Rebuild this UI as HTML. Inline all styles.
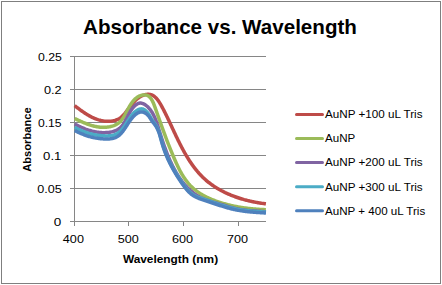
<!DOCTYPE html>
<html><head><meta charset="utf-8"><style>
html,body{margin:0;padding:0;background:#fff;}
body{width:442px;height:285px;overflow:hidden;}
svg{display:block;}
text{font-family:"Liberation Sans", sans-serif;fill:#000;}
</style></head><body>
<svg width="442" height="285" viewBox="0 0 442 285">
<rect x="0" y="0" width="442" height="285" fill="#fff"/>
<rect x="1.5" y="1.5" width="439" height="282" fill="none" stroke="#7f7f7f" stroke-width="1"/>
<line x1="74" y1="56.5" x2="266" y2="56.5" stroke="#868686" stroke-width="1"/><line x1="74" y1="89.5" x2="266" y2="89.5" stroke="#868686" stroke-width="1"/><line x1="74" y1="122.5" x2="266" y2="122.5" stroke="#868686" stroke-width="1"/><line x1="74" y1="155.5" x2="266" y2="155.5" stroke="#868686" stroke-width="1"/><line x1="74" y1="188.5" x2="266" y2="188.5" stroke="#868686" stroke-width="1"/>
<line x1="74.5" y1="56" x2="74.5" y2="226" stroke="#868686" stroke-width="1"/>
<line x1="70" y1="221.5" x2="266" y2="221.5" stroke="#868686" stroke-width="1"/>
<line x1="70" y1="56.5" x2="74" y2="56.5" stroke="#868686" stroke-width="1"/><line x1="70" y1="89.5" x2="74" y2="89.5" stroke="#868686" stroke-width="1"/><line x1="70" y1="122.5" x2="74" y2="122.5" stroke="#868686" stroke-width="1"/><line x1="70" y1="155.5" x2="74" y2="155.5" stroke="#868686" stroke-width="1"/><line x1="70" y1="188.5" x2="74" y2="188.5" stroke="#868686" stroke-width="1"/><line x1="70" y1="221.5" x2="74" y2="221.5" stroke="#868686" stroke-width="1"/><line x1="74.5" y1="221" x2="74.5" y2="226" stroke="#868686" stroke-width="1"/><line x1="128.5" y1="221" x2="128.5" y2="226" stroke="#868686" stroke-width="1"/><line x1="183.5" y1="221" x2="183.5" y2="226" stroke="#868686" stroke-width="1"/><line x1="238.5" y1="221" x2="238.5" y2="226" stroke="#868686" stroke-width="1"/>
<text x="37.90" y="61.00" font-size="11.20" textLength="23.90" lengthAdjust="spacingAndGlyphs">0.25</text><text x="43.90" y="94.00" font-size="11.20" textLength="17.70" lengthAdjust="spacingAndGlyphs">0.2</text><text x="37.90" y="127.00" font-size="11.20" textLength="23.70" lengthAdjust="spacingAndGlyphs">0.15</text><text x="43.10" y="160.00" font-size="11.20" textLength="18.30" lengthAdjust="spacingAndGlyphs">0.1</text><text x="37.30" y="193.00" font-size="11.20" textLength="24.50" lengthAdjust="spacingAndGlyphs">0.05</text><text x="53.80" y="226.00" font-size="11.20" textLength="7.50" lengthAdjust="spacingAndGlyphs">0</text><text x="62.85" y="243.00" font-size="11.20" textLength="21.10" lengthAdjust="spacingAndGlyphs">400</text><text x="117.65" y="243.00" font-size="11.20" textLength="21.10" lengthAdjust="spacingAndGlyphs">500</text><text x="172.00" y="243.00" font-size="11.20" textLength="21.10" lengthAdjust="spacingAndGlyphs">600</text><text x="227.00" y="243.00" font-size="11.20" textLength="21.10" lengthAdjust="spacingAndGlyphs">700</text>
<path d="M74.68 105.69 L75.27 106.15 L75.88 106.61 L76.48 107.07 L77.09 107.54 L77.70 108.00 L78.32 108.47 L78.94 108.93 L79.56 109.39 L80.19 109.85 L80.82 110.31 L81.46 110.77 L82.10 111.22 L82.74 111.67 L83.39 112.11 L84.04 112.55 L84.69 112.99 L85.35 113.42 L86.02 113.84 L86.68 114.26 L87.36 114.67 L88.03 115.07 L88.71 115.47 L89.40 115.86 L90.08 116.23 L90.78 116.60 L91.47 116.96 L92.17 117.31 L92.88 117.64 L93.59 117.97 L94.30 118.28 L95.02 118.58 L95.74 118.87 L96.47 119.15 L97.20 119.41 L97.94 119.66 L98.68 119.89 L99.43 120.10 L100.18 120.30 L100.93 120.49 L101.69 120.66 L102.46 120.81 L103.23 120.94 L104.00 121.06 L104.78 121.15 L105.56 121.23 L106.34 121.29 L107.13 121.32 L107.91 121.34 L108.69 121.33 L109.47 121.31 L110.25 121.26 L111.02 121.19 L111.78 121.09 L112.54 120.97 L113.29 120.83 L114.03 120.66 L114.76 120.47 L115.48 120.25 L116.18 120.01 L116.87 119.74 L117.55 119.44 L118.21 119.11 L118.85 118.76 L119.48 118.38 L120.09 117.97 L120.68 117.53 L121.25 117.07 L121.82 116.59 L122.37 116.08 L122.90 115.55 L123.43 115.01 L123.95 114.44 L124.46 113.87 L124.96 113.27 L125.46 112.67 L125.95 112.05 L126.44 111.42 L126.93 110.78 L127.42 110.14 L127.91 109.49 L128.40 108.83 L128.89 108.18 L129.39 107.52 L129.89 106.86 L130.40 106.21 L130.91 105.55 L131.44 104.91 L131.97 104.26 L132.51 103.63 L133.05 103.00 L133.61 102.39 L134.17 101.78 L134.74 101.19 L135.32 100.62 L135.91 100.06 L136.50 99.51 L137.11 98.99 L137.73 98.48 L138.35 98.00 L138.99 97.54 L139.63 97.10 L140.29 96.69 L140.96 96.31 L141.63 95.95 L142.32 95.63 L143.02 95.33 L143.73 95.07 L144.45 94.85 L145.19 94.66 L145.92 94.50 L146.66 94.39 L147.40 94.32 L148.14 94.29 L148.86 94.31 L149.58 94.38 L150.28 94.50 L150.97 94.67 L151.64 94.89 L152.29 95.17 L152.92 95.49 L153.53 95.85 L154.12 96.26 L154.70 96.71 L155.26 97.20 L155.81 97.72 L156.34 98.27 L156.86 98.85 L157.36 99.46 L157.86 100.10 L158.33 100.75 L158.80 101.42 L159.26 102.12 L159.70 102.82 L160.14 103.54 L160.49 104.14 L160.84 104.75 L161.19 105.36 L161.59 106.09 L161.99 106.83 L162.38 107.56 L162.76 108.28 L163.14 109.00 L163.51 109.72 L163.88 110.43 L164.24 111.13 L164.60 111.84 L164.95 112.54 L165.30 113.23 L165.64 113.92 L165.98 114.62 L166.32 115.30 L166.66 115.99 L166.99 116.68 L167.32 117.36 L167.65 118.04 L167.97 118.73 L168.30 119.41 L168.62 120.10 L168.95 120.78 L169.27 121.47 L169.59 122.16 L169.91 122.85 L170.24 123.54 L170.56 124.23 L170.88 124.92 L171.21 125.62 L171.53 126.32 L171.86 127.02 L172.18 127.72 L172.51 128.42 L172.83 129.12 L173.16 129.82 L173.49 130.53 L173.82 131.23 L174.15 131.94 L174.48 132.65 L174.81 133.35 L175.15 134.06 L175.48 134.77 L175.82 135.47 L176.15 136.18 L176.49 136.89 L176.83 137.60 L177.17 138.30 L177.51 139.01 L177.86 139.72 L178.20 140.43 L178.55 141.13 L178.90 141.84 L179.25 142.54 L179.61 143.25 L179.96 143.95 L180.32 144.65 L180.68 145.35 L181.04 146.05 L181.41 146.75 L181.77 147.45 L182.14 148.15 L182.51 148.84 L182.88 149.54 L183.26 150.23 L183.64 150.92 L184.02 151.61 L184.41 152.30 L184.79 152.98 L185.18 153.66 L185.58 154.34 L185.97 155.02 L186.37 155.70 L186.77 156.37 L187.18 157.04 L187.59 157.71 L188.00 158.38 L188.41 159.04 L188.83 159.70 L189.25 160.36 L189.68 161.01 L190.11 161.66 L190.54 162.31 L190.98 162.95 L191.42 163.59 L191.86 164.23 L192.31 164.87 L192.77 165.50 L193.22 166.12 L193.68 166.74 L194.15 167.36 L194.62 167.98 L195.09 168.59 L195.57 169.20 L196.05 169.80 L196.54 170.40 L197.03 170.99 L197.52 171.58 L198.03 172.16 L198.53 172.74 L199.04 173.32 L199.56 173.89 L200.08 174.45 L200.60 175.01 L201.13 175.57 L201.67 176.11 L202.21 176.66 L202.75 177.20 L203.31 177.73 L203.86 178.26 L204.42 178.78 L204.99 179.30 L205.57 179.81 L206.14 180.31 L206.73 180.81 L207.32 181.30 L207.91 181.79 L208.51 182.27 L209.12 182.74 L209.73 183.21 L210.34 183.68 L210.96 184.14 L211.59 184.59 L212.22 185.04 L212.85 185.48 L213.49 185.91 L214.14 186.34 L214.78 186.77 L215.44 187.18 L216.09 187.60 L216.75 188.01 L217.42 188.41 L218.08 188.80 L218.76 189.20 L219.43 189.58 L220.11 189.96 L220.80 190.34 L221.48 190.71 L222.17 191.07 L222.87 191.43 L223.57 191.78 L224.27 192.13 L224.97 192.48 L225.68 192.81 L226.39 193.15 L227.10 193.47 L227.82 193.80 L228.53 194.11 L229.26 194.42 L229.98 194.73 L230.71 195.03 L231.43 195.33 L232.17 195.62 L232.90 195.91 L233.63 196.19 L234.37 196.47 L235.11 196.74 L235.85 197.00 L236.60 197.27 L237.34 197.52 L238.09 197.77 L238.84 198.02 L239.59 198.26 L240.34 198.50 L241.09 198.73 L241.85 198.96 L242.60 199.18 L243.36 199.40 L244.12 199.62 L244.88 199.82 L245.64 200.03 L246.40 200.23 L247.16 200.42 L247.92 200.61 L248.68 200.80 L249.44 200.98 L250.21 201.15 L250.97 201.33 L251.73 201.49 L252.50 201.66 L253.26 201.81 L254.03 201.97 L254.79 202.12 L255.55 202.26 L256.32 202.40 L257.08 202.54 L257.84 202.67 L258.61 202.80 L259.37 202.92 L260.13 203.04 L260.89 203.15 L261.65 203.27 L262.41 203.37 L263.16 203.47 L263.92 203.57 L264.68 203.66 L265.43 203.75 L265.93 203.81" fill="none" stroke="#BE4B48" stroke-width="3.50" stroke-linejoin="round"/>
<path d="M74.65 118.53 L75.38 118.87 L76.11 119.21 L76.84 119.56 L77.58 119.90 L78.31 120.24 L79.05 120.58 L79.79 120.92 L80.54 121.26 L81.28 121.59 L82.03 121.92 L82.78 122.24 L83.53 122.56 L84.28 122.88 L85.04 123.19 L85.79 123.49 L86.55 123.78 L87.32 124.07 L88.08 124.35 L88.85 124.62 L89.62 124.88 L90.39 125.13 L91.17 125.37 L91.95 125.60 L92.73 125.82 L93.52 126.02 L94.31 126.21 L95.10 126.39 L95.90 126.56 L96.69 126.71 L97.50 126.85 L98.30 126.97 L99.11 127.07 L99.92 127.16 L100.74 127.23 L101.56 127.28 L102.38 127.31 L103.21 127.33 L104.04 127.32 L104.88 127.30 L105.71 127.25 L106.55 127.19 L107.38 127.10 L108.22 126.99 L109.04 126.86 L109.86 126.71 L110.67 126.53 L111.48 126.34 L112.27 126.11 L113.05 125.87 L113.81 125.60 L114.56 125.30 L115.30 124.98 L116.01 124.63 L116.70 124.26 L117.38 123.86 L118.02 123.43 L118.65 122.98 L119.24 122.50 L119.81 121.99 L120.36 121.46 L120.88 120.90 L121.38 120.32 L121.87 119.71 L122.33 119.09 L122.78 118.44 L123.22 117.78 L123.64 117.10 L124.06 116.41 L124.47 115.70 L124.87 114.98 L125.27 114.25 L125.60 113.63 L125.93 113.01 L126.26 112.38 L126.59 111.74 L126.93 111.11 L127.26 110.47 L127.60 109.83 L127.95 109.19 L128.30 108.55 L128.65 107.91 L129.01 107.28 L129.37 106.64 L129.74 106.02 L130.12 105.40 L130.50 104.79 L130.89 104.18 L131.29 103.59 L131.69 103.00 L132.10 102.43 L132.53 101.87 L133.04 101.21 L133.58 100.58 L134.12 99.97 L134.68 99.38 L135.26 98.83 L135.86 98.30 L136.47 97.80 L137.10 97.33 L137.75 96.90 L138.42 96.50 L139.11 96.15 L139.82 95.83 L140.55 95.55 L141.29 95.32 L142.04 95.13 L142.80 95.00 L143.55 94.92 L144.30 94.89 L145.04 94.92 L145.76 95.01 L146.46 95.16 L147.14 95.37 L147.79 95.66 L148.40 96.01 L148.98 96.43 L149.53 96.90 L150.06 97.43 L150.55 98.01 L151.02 98.64 L151.47 99.31 L151.89 100.02 L152.23 100.63 L152.56 101.27 L152.87 101.92 L153.17 102.59 L153.46 103.26 L153.74 103.95 L154.02 104.65 L154.29 105.35 L154.55 106.05 L154.80 106.76 L155.06 107.46 L155.30 108.15 L155.55 108.84 L155.79 109.52 L156.03 110.20 L156.27 110.87 L156.51 111.54 L156.74 112.20 L157.02 112.99 L157.29 113.77 L157.56 114.55 L157.84 115.32 L158.10 116.09 L158.37 116.85 L158.64 117.62 L158.90 118.38 L159.17 119.13 L159.43 119.89 L159.70 120.64 L159.96 121.39 L160.23 122.15 L160.50 122.90 L160.76 123.65 L161.03 124.40 L161.30 125.16 L161.57 125.91 L161.84 126.66 L162.11 127.42 L162.39 128.17 L162.66 128.93 L162.93 129.68 L163.21 130.43 L163.49 131.19 L163.76 131.94 L164.04 132.70 L164.32 133.45 L164.60 134.21 L164.89 134.97 L165.17 135.72 L165.45 136.48 L165.74 137.24 L166.02 137.99 L166.31 138.75 L166.60 139.51 L166.89 140.26 L167.18 141.02 L167.48 141.78 L167.77 142.54 L168.06 143.30 L168.36 144.06 L168.66 144.82 L168.96 145.57 L169.26 146.33 L169.56 147.09 L169.86 147.85 L170.16 148.61 L170.47 149.38 L170.78 150.14 L171.09 150.90 L171.40 151.66 L171.71 152.42 L172.02 153.18 L172.33 153.95 L172.65 154.71 L172.97 155.47 L173.28 156.23 L173.61 157.00 L173.93 157.76 L174.25 158.52 L174.58 159.28 L174.91 160.04 L175.24 160.80 L175.57 161.56 L175.91 162.32 L176.25 163.08 L176.60 163.83 L176.95 164.58 L177.30 165.33 L177.65 166.08 L178.01 166.82 L178.37 167.56 L178.74 168.30 L179.11 169.03 L179.49 169.76 L179.87 170.49 L180.26 171.21 L180.65 171.93 L181.05 172.64 L181.46 173.35 L181.87 174.06 L182.28 174.76 L182.70 175.45 L183.13 176.14 L183.56 176.82 L184.01 177.50 L184.45 178.17 L184.91 178.84 L185.37 179.49 L185.84 180.15 L186.32 180.79 L186.80 181.43 L187.30 182.06 L187.80 182.68 L188.31 183.29 L188.82 183.90 L189.35 184.50 L189.88 185.09 L190.43 185.67 L190.98 186.24 L191.54 186.80 L192.12 187.36 L192.70 187.90 L193.29 188.44 L193.89 188.96 L194.50 189.48 L195.12 189.98 L195.75 190.48 L196.39 190.97 L197.04 191.44 L197.69 191.91 L198.35 192.37 L199.02 192.82 L199.70 193.27 L200.39 193.70 L201.08 194.13 L201.78 194.54 L202.48 194.95 L203.19 195.35 L203.91 195.75 L204.63 196.13 L205.36 196.51 L206.09 196.88 L206.83 197.24 L207.57 197.60 L208.32 197.95 L209.07 198.29 L209.83 198.62 L210.58 198.95 L211.35 199.27 L212.11 199.58 L212.88 199.89 L213.65 200.19 L214.42 200.49 L215.20 200.78 L215.97 201.06 L216.75 201.34 L217.53 201.61 L218.31 201.87 L219.09 202.13 L219.87 202.38 L220.66 202.63 L221.44 202.88 L222.22 203.12 L223.00 203.35 L223.79 203.58 L224.57 203.80 L225.35 204.02 L226.14 204.23 L226.92 204.44 L227.71 204.64 L228.50 204.84 L229.28 205.03 L230.07 205.22 L230.86 205.41 L231.65 205.59 L232.44 205.76 L233.23 205.93 L234.02 206.10 L234.81 206.26 L235.60 206.42 L236.39 206.57 L237.19 206.72 L237.98 206.87 L238.78 207.01 L239.57 207.14 L240.37 207.28 L241.17 207.41 L241.96 207.53 L242.76 207.65 L243.56 207.77 L244.36 207.88 L245.17 207.99 L245.97 208.10 L246.78 208.20 L247.58 208.30 L248.39 208.39 L249.19 208.49 L250.00 208.57 L250.81 208.66 L251.62 208.74 L252.44 208.82 L253.25 208.89 L254.07 208.97 L254.88 209.04 L255.70 209.10 L256.52 209.17 L257.34 209.23 L258.16 209.28 L258.98 209.34 L259.80 209.39 L260.63 209.44 L261.46 209.48 L262.29 209.53 L263.12 209.57 L263.95 209.61 L264.78 209.64 L265.61 209.68 L265.89 209.69" fill="none" stroke="#9BBB59" stroke-width="3.50" stroke-linejoin="round"/>
<path d="M74.67 124.05 L75.38 124.43 L76.09 124.80 L76.80 125.16 L77.52 125.52 L78.24 125.87 L78.96 126.22 L79.68 126.56 L80.40 126.90 L81.13 127.23 L81.86 127.55 L82.59 127.86 L83.32 128.17 L84.05 128.47 L84.79 128.76 L85.53 129.05 L86.27 129.32 L87.02 129.58 L87.76 129.84 L88.51 130.09 L89.27 130.33 L90.02 130.55 L90.78 130.77 L91.54 130.98 L92.31 131.17 L93.08 131.36 L93.85 131.53 L94.62 131.69 L95.40 131.85 L96.18 131.98 L96.97 132.11 L97.75 132.22 L98.55 132.32 L99.34 132.41 L100.14 132.49 L100.95 132.55 L101.75 132.60 L102.57 132.63 L103.38 132.65 L104.20 132.65 L105.02 132.64 L105.85 132.61 L106.67 132.57 L107.49 132.50 L108.31 132.42 L109.13 132.32 L109.94 132.20 L110.74 132.06 L111.53 131.90 L112.32 131.72 L113.09 131.51 L113.85 131.28 L114.59 131.03 L115.32 130.75 L116.03 130.45 L116.72 130.12 L117.39 129.76 L118.04 129.37 L118.67 128.96 L119.27 128.51 L119.85 128.04 L120.40 127.54 L120.94 127.01 L121.45 126.46 L121.94 125.88 L122.41 125.29 L122.87 124.67 L123.32 124.03 L123.75 123.38 L124.17 122.71 L124.58 122.02 L124.98 121.33 L125.37 120.62 L125.76 119.90 L126.15 119.17 L126.53 118.44 L126.92 117.70 L127.30 116.96 L127.68 116.21 L128.07 115.47 L128.46 114.73 L128.86 113.99 L129.27 113.25 L129.68 112.53 L130.11 111.81 L130.54 111.10 L130.99 110.40 L131.45 109.72 L131.93 109.05 L132.43 108.40 L132.94 107.77 L133.48 107.15 L134.03 106.57 L134.61 106.00 L135.21 105.46 L135.84 104.95 L136.48 104.49 L137.14 104.07 L137.81 103.72 L138.49 103.43 L139.17 103.22 L139.98 103.09 L140.78 103.07 L141.58 103.17 L142.27 103.33 L142.94 103.56 L143.61 103.85 L144.28 104.20 L144.93 104.60 L145.57 105.04 L146.19 105.52 L146.80 106.03 L147.39 106.56 L147.96 107.12 L148.52 107.69 L149.05 108.27 L149.56 108.87 L150.06 109.48 L150.53 110.10 L150.99 110.74 L151.43 111.38 L151.86 112.04 L152.27 112.70 L152.66 113.38 L153.05 114.06 L153.41 114.75 L153.77 115.45 L154.11 116.16 L154.44 116.88 L154.76 117.60 L155.08 118.33 L155.38 119.06 L155.67 119.80 L155.95 120.55 L156.23 121.30 L156.50 122.05 L156.76 122.80 L157.02 123.56 L157.27 124.32 L157.52 125.09 L157.77 125.85 L158.01 126.62 L158.25 127.38 L158.49 128.15 L158.72 128.92 L158.96 129.68 L159.20 130.44 L159.44 131.21 L159.67 131.97 L159.91 132.73 L160.15 133.49 L160.39 134.25 L160.63 135.00 L160.87 135.76 L161.11 136.51 L161.35 137.27 L161.59 138.02 L161.83 138.77 L162.08 139.52 L162.33 140.27 L162.57 141.02 L162.82 141.77 L163.07 142.51 L163.33 143.26 L163.58 144.01 L163.84 144.75 L164.10 145.49 L164.36 146.23 L164.62 146.97 L164.89 147.71 L165.15 148.45 L165.42 149.19 L165.70 149.93 L165.97 150.67 L166.25 151.40 L166.53 152.14 L166.82 152.87 L167.11 153.60 L167.40 154.33 L167.69 155.06 L167.99 155.79 L168.29 156.52 L168.60 157.25 L168.91 157.98 L169.22 158.71 L169.54 159.43 L169.86 160.16 L170.19 160.88 L170.52 161.61 L170.85 162.33 L171.19 163.05 L171.53 163.77 L171.88 164.49 L172.24 165.21 L172.59 165.93 L172.96 166.65 L173.33 167.36 L173.70 168.08 L174.08 168.79 L174.46 169.50 L174.85 170.21 L175.24 170.91 L175.64 171.61 L176.05 172.31 L176.46 173.01 L176.87 173.70 L177.29 174.39 L177.72 175.08 L178.15 175.76 L178.59 176.43 L179.03 177.11 L179.48 177.78 L179.93 178.44 L180.39 179.10 L180.86 179.75 L181.33 180.40 L181.81 181.04 L182.29 181.68 L182.78 182.31 L183.28 182.93 L183.78 183.55 L184.29 184.16 L184.80 184.77 L185.32 185.37 L185.85 185.96 L186.38 186.54 L186.92 187.11 L187.47 187.68 L188.02 188.24 L188.58 188.79 L189.15 189.34 L189.72 189.87 L190.30 190.40 L190.89 190.91 L191.48 191.42 L192.08 191.92 L192.69 192.41 L193.30 192.89 L193.92 193.35 L194.55 193.81 L195.19 194.26 L195.83 194.70 L196.48 195.13 L197.14 195.54 L197.80 195.94 L198.48 196.34 L199.16 196.72 L199.84 197.09 L200.54 197.45 L201.24 197.79 L201.95 198.12 L202.67 198.45 L203.39 198.76 L204.12 199.06 L204.85 199.35 L205.59 199.63 L206.34 199.91 L207.09 200.18 L207.84 200.44 L208.60 200.69 L209.36 200.94 L210.12 201.18 L210.89 201.41 L211.66 201.65 L212.43 201.88 L213.20 202.10 L213.98 202.33 L214.75 202.55 L215.53 202.77 L216.30 202.99 L217.07 203.21 L217.85 203.43 L218.62 203.65 L219.39 203.88 L220.16 204.10 L220.92 204.33 L221.69 204.56 L222.45 204.79 L223.21 205.03 L223.97 205.26 L224.73 205.50 L225.48 205.73 L226.24 205.96 L227.00 206.19 L227.75 206.42 L228.51 206.65 L229.26 206.87 L230.02 207.09 L230.78 207.31 L231.54 207.52 L232.30 207.73 L233.06 207.93 L233.83 208.12 L234.59 208.31 L235.36 208.49 L236.13 208.66 L236.91 208.82 L237.69 208.98 L238.47 209.13 L239.25 209.27 L240.03 209.40 L240.82 209.53 L241.61 209.65 L242.40 209.76 L243.19 209.87 L243.99 209.97 L244.78 210.06 L245.58 210.16 L246.38 210.24 L247.17 210.33 L247.97 210.40 L248.77 210.48 L249.57 210.55 L250.37 210.62 L251.17 210.68 L251.98 210.75 L252.78 210.81 L253.58 210.86 L254.38 210.92 L255.18 210.98 L255.98 211.03 L256.77 211.08 L257.57 211.14 L258.37 211.19 L259.16 211.24 L259.96 211.29 L260.75 211.35 L261.54 211.40 L262.32 211.46 L263.11 211.52 L263.89 211.57 L264.68 211.64 L265.45 211.70 L265.97 211.74" fill="none" stroke="#8064A2" stroke-width="3.50" stroke-linejoin="round"/>
<path d="M74.69 127.40 L75.43 127.78 L76.16 128.15 L76.88 128.51 L77.61 128.87 L78.33 129.21 L79.05 129.55 L79.77 129.88 L80.49 130.20 L81.21 130.51 L81.93 130.81 L82.64 131.10 L83.36 131.39 L84.07 131.67 L84.79 131.93 L85.51 132.19 L86.22 132.44 L86.94 132.69 L87.66 132.92 L88.38 133.15 L89.10 133.36 L89.83 133.57 L90.56 133.77 L91.29 133.96 L92.02 134.14 L92.76 134.32 L93.50 134.48 L94.24 134.64 L94.99 134.78 L95.74 134.92 L96.49 135.05 L97.25 135.17 L98.02 135.28 L98.79 135.39 L99.57 135.48 L100.35 135.56 L101.14 135.64 L101.93 135.71 L102.73 135.77 L103.54 135.82 L104.36 135.85 L105.18 135.88 L106.00 135.90 L106.82 135.90 L107.64 135.89 L108.46 135.85 L109.27 135.80 L110.08 135.73 L110.87 135.63 L111.66 135.51 L112.42 135.37 L113.18 135.19 L113.91 134.99 L114.63 134.75 L115.32 134.48 L115.99 134.18 L116.64 133.84 L117.27 133.48 L117.88 133.08 L118.47 132.66 L119.05 132.21 L119.60 131.74 L120.15 131.24 L120.67 130.72 L121.19 130.18 L121.69 129.62 L122.18 129.04 L122.66 128.45 L123.14 127.84 L123.60 127.22 L124.06 126.58 L124.51 125.94 L124.95 125.28 L125.40 124.62 L125.83 123.95 L126.27 123.27 L126.71 122.59 L127.15 121.91 L127.58 121.23 L128.03 120.55 L128.47 119.87 L128.92 119.19 L129.37 118.52 L129.83 117.86 L130.30 117.20 L130.78 116.55 L131.26 115.91 L131.76 115.28 L132.27 114.67 L132.79 114.07 L133.33 113.48 L133.88 112.92 L134.44 112.37 L135.03 111.84 L135.63 111.34 L136.24 110.86 L136.87 110.42 L137.51 110.03 L138.16 109.68 L138.82 109.38 L139.49 109.15 L140.28 108.96 L141.07 108.87 L141.87 108.89 L142.66 109.03 L143.34 109.25 L144.02 109.57 L144.69 109.98 L145.35 110.47 L145.89 110.93 L146.41 111.42 L146.91 111.94 L147.40 112.49 L147.85 113.04 L148.29 113.60 L148.77 114.28 L149.22 114.95 L149.64 115.63 L150.04 116.29 L150.42 116.95 L150.79 117.60 L151.14 118.24 L151.49 118.87 L151.84 119.48 L152.26 120.17 L152.68 120.83 L153.13 121.47 L153.60 122.08 L154.08 122.68 L154.56 123.31 L155.03 123.98 L155.43 124.56 L155.81 125.17 L156.19 125.80 L156.56 126.44 L156.92 127.10 L157.26 127.77 L157.60 128.45 L157.91 129.15 L158.22 129.86 L158.51 130.57 L158.78 131.29 L159.05 132.02 L159.30 132.76 L159.54 133.50 L159.78 134.25 L160.00 135.00 L160.22 135.76 L160.44 136.52 L160.65 137.28 L160.86 138.04 L161.07 138.81 L161.27 139.57 L161.48 140.33 L161.69 141.09 L161.90 141.85 L162.12 142.61 L162.34 143.37 L162.57 144.12 L162.80 144.86 L163.04 145.61 L163.28 146.35 L163.52 147.09 L163.77 147.82 L164.03 148.56 L164.29 149.29 L164.55 150.02 L164.82 150.74 L165.09 151.46 L165.37 152.18 L165.65 152.90 L165.94 153.61 L166.23 154.33 L166.53 155.04 L166.83 155.74 L167.13 156.45 L167.44 157.15 L167.75 157.85 L168.07 158.55 L168.39 159.25 L168.72 159.94 L169.05 160.64 L169.38 161.33 L169.72 162.02 L170.07 162.70 L170.41 163.39 L170.76 164.07 L171.12 164.75 L171.48 165.44 L171.84 166.11 L172.21 166.79 L172.58 167.47 L172.95 168.14 L173.33 168.82 L173.71 169.49 L174.10 170.16 L174.49 170.83 L174.88 171.50 L175.28 172.17 L175.68 172.83 L176.09 173.50 L176.50 174.16 L176.91 174.83 L177.32 175.49 L177.74 176.15 L178.17 176.81 L178.59 177.47 L179.03 178.13 L179.46 178.79 L179.90 179.45 L180.34 180.11 L180.78 180.77 L181.23 181.43 L181.68 182.08 L182.13 182.74 L182.59 183.40 L183.06 184.05 L183.52 184.70 L184.00 185.35 L184.47 185.99 L184.96 186.62 L185.45 187.25 L185.95 187.87 L186.45 188.47 L186.96 189.07 L187.48 189.66 L188.01 190.23 L188.55 190.79 L189.10 191.34 L189.66 191.87 L190.22 192.39 L190.80 192.89 L191.39 193.36 L191.99 193.82 L192.61 194.26 L193.23 194.68 L193.87 195.08 L194.52 195.46 L195.18 195.82 L195.85 196.16 L196.53 196.49 L197.22 196.80 L197.91 197.10 L198.62 197.39 L199.33 197.67 L200.04 197.94 L200.76 198.20 L201.49 198.45 L202.21 198.70 L202.95 198.95 L203.68 199.19 L204.41 199.43 L205.15 199.66 L205.89 199.90 L206.62 200.15 L207.36 200.39 L208.10 200.63 L208.83 200.88 L209.57 201.12 L210.30 201.37 L211.04 201.62 L211.77 201.87 L212.51 202.12 L213.24 202.37 L213.98 202.61 L214.71 202.86 L215.45 203.11 L216.18 203.36 L216.92 203.60 L217.66 203.85 L218.39 204.09 L219.13 204.34 L219.87 204.58 L220.61 204.81 L221.35 205.05 L222.09 205.29 L222.83 205.52 L223.57 205.75 L224.31 205.97 L225.05 206.20 L225.80 206.42 L226.54 206.64 L227.29 206.85 L228.03 207.06 L228.78 207.26 L229.53 207.46 L230.28 207.66 L231.03 207.85 L231.79 208.04 L232.54 208.22 L233.30 208.40 L234.05 208.57 L234.81 208.74 L235.57 208.90 L236.33 209.06 L237.09 209.20 L237.86 209.35 L238.62 209.48 L239.39 209.62 L240.16 209.74 L240.93 209.87 L241.70 209.98 L242.47 210.09 L243.24 210.20 L244.02 210.30 L244.79 210.40 L245.57 210.50 L246.34 210.59 L247.12 210.68 L247.90 210.76 L248.67 210.84 L249.45 210.92 L250.23 210.99 L251.01 211.06 L251.78 211.13 L252.56 211.20 L253.34 211.26 L254.12 211.32 L254.90 211.38 L255.67 211.44 L256.45 211.50 L257.23 211.55 L258.00 211.60 L258.78 211.66 L259.56 211.71 L260.33 211.76 L261.10 211.81 L261.88 211.86 L262.65 211.91 L263.42 211.96 L264.19 212.01 L264.96 212.06 L265.73 212.11 L265.98 212.13" fill="none" stroke="#4BACC6" stroke-width="3.50" stroke-linejoin="round"/>
<path d="M74.69 130.50 L75.43 130.88 L76.16 131.25 L76.88 131.61 L77.61 131.97 L78.33 132.31 L79.05 132.65 L79.77 132.98 L80.49 133.30 L81.21 133.61 L81.93 133.91 L82.64 134.20 L83.36 134.49 L84.07 134.77 L84.79 135.03 L85.51 135.29 L86.22 135.54 L86.94 135.79 L87.66 136.02 L88.38 136.25 L89.10 136.46 L89.83 136.67 L90.56 136.87 L91.29 137.06 L92.02 137.24 L92.76 137.42 L93.50 137.58 L94.24 137.74 L94.99 137.88 L95.74 138.02 L96.49 138.15 L97.25 138.27 L98.02 138.38 L98.79 138.49 L99.57 138.58 L100.35 138.66 L101.14 138.74 L101.93 138.81 L102.73 138.87 L103.54 138.92 L104.36 138.95 L105.18 138.98 L106.00 139.00 L106.82 139.00 L107.64 138.99 L108.46 138.95 L109.27 138.90 L110.08 138.83 L110.87 138.73 L111.66 138.61 L112.42 138.47 L113.18 138.29 L113.91 138.09 L114.63 137.85 L115.32 137.58 L115.99 137.28 L116.64 136.94 L117.27 136.58 L117.88 136.18 L118.47 135.76 L119.05 135.31 L119.60 134.84 L120.15 134.34 L120.67 133.82 L121.19 133.28 L121.69 132.72 L122.18 132.14 L122.66 131.55 L123.14 130.94 L123.60 130.32 L124.06 129.68 L124.51 129.04 L124.95 128.38 L125.40 127.72 L125.83 127.05 L126.27 126.37 L126.71 125.69 L127.15 125.01 L127.58 124.33 L128.03 123.65 L128.47 122.97 L128.92 122.29 L129.37 121.62 L129.83 120.96 L130.30 120.30 L130.78 119.65 L131.26 119.01 L131.76 118.38 L132.27 117.77 L132.79 117.17 L133.33 116.58 L133.88 116.02 L134.44 115.47 L135.03 114.94 L135.63 114.44 L136.24 113.96 L136.87 113.52 L137.51 113.13 L138.16 112.78 L138.82 112.48 L139.49 112.25 L140.28 112.06 L141.07 111.97 L141.87 111.99 L142.66 112.13 L143.34 112.28 L144.02 112.47 L144.69 112.74 L145.35 113.10 L145.89 113.45 L146.41 113.84 L146.91 114.26 L147.40 114.71 L147.85 115.17 L148.29 115.65 L148.77 116.22 L149.22 116.81 L149.64 117.40 L150.04 117.98 L150.42 118.57 L150.79 119.15 L151.14 119.71 L151.49 120.27 L151.84 120.81 L152.26 121.42 L152.68 122.00 L153.13 122.54 L153.60 123.06 L154.08 123.58 L154.56 124.21 L155.03 124.88 L155.43 125.46 L155.81 126.07 L156.19 126.70 L156.56 127.34 L156.92 128.00 L157.26 128.67 L157.60 129.35 L157.91 130.05 L158.22 130.76 L158.51 131.47 L158.78 132.19 L159.05 132.92 L159.30 133.66 L159.54 134.40 L159.78 135.15 L160.00 135.90 L160.22 136.66 L160.44 137.42 L160.65 138.18 L160.86 138.94 L161.07 139.71 L161.27 140.47 L161.48 141.23 L161.69 141.99 L161.90 142.75 L162.12 143.51 L162.34 144.27 L162.57 145.02 L162.80 145.76 L163.04 146.51 L163.28 147.25 L163.52 147.99 L163.77 148.72 L164.03 149.46 L164.29 150.19 L164.55 150.92 L164.82 151.64 L165.09 152.36 L165.37 153.08 L165.65 153.80 L165.94 154.51 L166.23 155.23 L166.53 155.94 L166.83 156.64 L167.13 157.35 L167.44 158.05 L167.75 158.75 L168.07 159.45 L168.39 160.15 L168.72 160.84 L169.05 161.54 L169.38 162.23 L169.72 162.92 L170.07 163.60 L170.41 164.29 L170.76 164.97 L171.12 165.65 L171.48 166.34 L171.84 167.01 L172.21 167.69 L172.58 168.37 L172.95 169.04 L173.33 169.72 L173.71 170.39 L174.10 171.06 L174.49 171.73 L174.88 172.40 L175.28 173.07 L175.68 173.73 L176.09 174.40 L176.50 175.06 L176.91 175.73 L177.32 176.39 L177.74 177.05 L178.17 177.71 L178.59 178.37 L179.03 179.03 L179.46 179.69 L179.90 180.35 L180.34 181.01 L180.78 181.67 L181.23 182.33 L181.68 182.98 L182.13 183.64 L182.59 184.30 L183.06 184.95 L183.52 185.60 L184.00 186.25 L184.47 186.89 L184.96 187.52 L185.45 188.15 L185.95 188.77 L186.45 189.37 L186.96 189.97 L187.48 190.56 L188.01 191.13 L188.55 191.69 L189.10 192.24 L189.66 192.77 L190.22 193.29 L190.80 193.79 L191.39 194.26 L191.99 194.72 L192.61 195.16 L193.23 195.58 L193.87 195.98 L194.52 196.36 L195.18 196.72 L195.85 197.06 L196.53 197.39 L197.22 197.70 L197.91 198.00 L198.62 198.29 L199.33 198.57 L200.04 198.84 L200.76 199.10 L201.49 199.35 L202.21 199.60 L202.95 199.85 L203.68 200.09 L204.41 200.33 L205.15 200.56 L205.89 200.80 L206.62 201.05 L207.36 201.29 L208.10 201.53 L208.83 201.78 L209.57 202.02 L210.30 202.27 L211.04 202.52 L211.77 202.77 L212.51 203.02 L213.24 203.27 L213.98 203.51 L214.71 203.76 L215.45 204.01 L216.18 204.26 L216.92 204.50 L217.66 204.75 L218.39 204.99 L219.13 205.24 L219.87 205.48 L220.61 205.71 L221.35 205.95 L222.09 206.19 L222.83 206.42 L223.57 206.65 L224.31 206.87 L225.05 207.10 L225.80 207.32 L226.54 207.54 L227.29 207.75 L228.03 207.96 L228.78 208.16 L229.53 208.36 L230.28 208.56 L231.03 208.75 L231.79 208.94 L232.54 209.12 L233.30 209.30 L234.05 209.47 L234.81 209.64 L235.57 209.80 L236.33 209.96 L237.09 210.10 L237.86 210.25 L238.62 210.38 L239.39 210.52 L240.16 210.64 L240.93 210.77 L241.70 210.88 L242.47 210.99 L243.24 211.10 L244.02 211.20 L244.79 211.30 L245.57 211.40 L246.34 211.49 L247.12 211.58 L247.90 211.66 L248.67 211.74 L249.45 211.82 L250.23 211.89 L251.01 211.96 L251.78 212.03 L252.56 212.10 L253.34 212.16 L254.12 212.22 L254.90 212.28 L255.67 212.34 L256.45 212.40 L257.23 212.45 L258.00 212.50 L258.78 212.56 L259.56 212.61 L260.33 212.66 L261.10 212.71 L261.88 212.76 L262.65 212.81 L263.42 212.86 L264.19 212.91 L264.96 212.96 L265.73 213.01 L265.98 213.03" fill="none" stroke="#4F81BD" stroke-width="3.50" stroke-linejoin="round"/>
<line x1="296.5" y1="114.40" x2="322.5" y2="114.40" stroke="#BE4B48" stroke-width="3" stroke-linecap="round"/><text x="325.00" y="117.80" font-size="11.00" textLength="97.50" lengthAdjust="spacingAndGlyphs">AuNP +100 uL Tris</text><line x1="296.5" y1="138.50" x2="322.5" y2="138.50" stroke="#9BBB59" stroke-width="3" stroke-linecap="round"/><text x="325.00" y="142.05" font-size="11.00" textLength="30.20" lengthAdjust="spacingAndGlyphs">AuNP</text><line x1="296.5" y1="162.60" x2="322.5" y2="162.60" stroke="#8064A2" stroke-width="3" stroke-linecap="round"/><text x="325.00" y="166.30" font-size="11.00" textLength="97.70" lengthAdjust="spacingAndGlyphs">AuNP +200 uL Tris</text><line x1="296.5" y1="186.70" x2="322.5" y2="186.70" stroke="#4BACC6" stroke-width="3" stroke-linecap="round"/><text x="325.00" y="190.55" font-size="11.00" textLength="97.70" lengthAdjust="spacingAndGlyphs">AuNP +300 uL Tris</text><line x1="296.5" y1="210.80" x2="322.5" y2="210.80" stroke="#4F81BD" stroke-width="3" stroke-linecap="round"/><text x="325.00" y="214.80" font-size="11.00" textLength="100.20" lengthAdjust="spacingAndGlyphs">AuNP + 400 uL Tris</text>
<text x="83.10" y="33.80" font-size="20.50" font-weight="bold" textLength="273.80" lengthAdjust="spacingAndGlyphs">Absorbance vs. Wavelength</text>
<text x="122.90" y="263.00" font-size="10.80" font-weight="bold" textLength="95.20" lengthAdjust="spacingAndGlyphs">Wavelength (nm)</text>
<g transform="translate(30.8,171.2) rotate(-90)"><text x="-0.60" y="0.00" font-size="11.00" font-weight="bold" textLength="64.50" lengthAdjust="spacingAndGlyphs">Absorbance</text></g>
</svg>
</body></html>
